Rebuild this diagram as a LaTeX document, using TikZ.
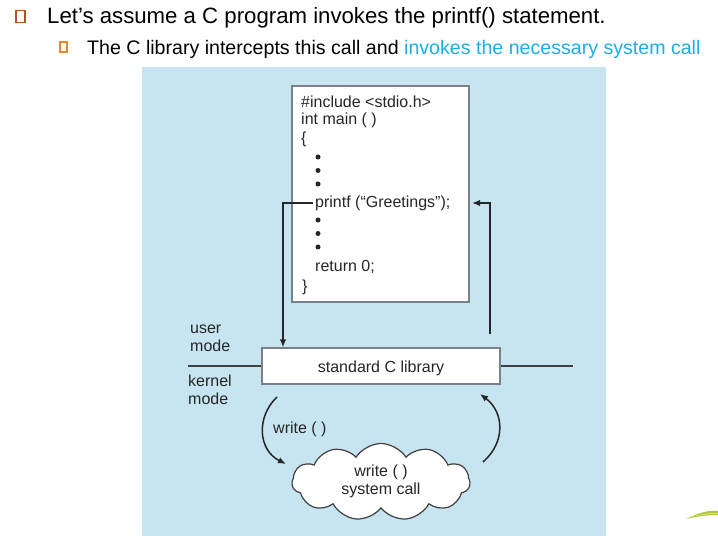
\documentclass[tikz,border=0pt]{standalone}
\usepackage{fontspec}
\setmainfont{Liberation Sans}
\usetikzlibrary{shapes.symbols,arrows.meta}
\definecolor{panelblue}{HTML}{C6E5F0}
\definecolor{linkblue}{HTML}{1CAEE4}
\definecolor{bulletA}{HTML}{B5521C}
\definecolor{bulletB}{HTML}{E8862A}
\definecolor{boxline}{HTML}{7A8088}
\definecolor{swooshA}{HTML}{A8C83A}
\definecolor{swooshB}{HTML}{E8E070}
\tikzset{
  headA/.style={font=\fontsize{22.2}{26}\selectfont, anchor=base west, inner sep=0pt},
  headB/.style={font=\fontsize{19.6}{23}\selectfont, anchor=base west, inner sep=0pt},
  code/.style={font=\fontsize{16}{19}\selectfont, anchor=base west, inner sep=0pt, text=black!85},
  lbl/.style={font=\fontsize{16}{18}\selectfont, inner sep=0pt, text=black!85},
  whitebox/.style={draw=boxline, fill=white, line width=1.2pt},
  conn/.style={line width=1.5pt, draw=black!85},
  tip/.style={-{Latex[length=8pt,width=6.5pt]}},
  codedot/.style={circle, fill=black!85, inner sep=0pt, minimum size=5pt},
}
\begin{document}
\begin{tikzpicture}[x=1pt,y=-1pt]
\useasboundingbox (0,0) rectangle (718,540);
% header bullets and text
\node[draw=bulletA, line width=1.4pt, minimum width=9pt, minimum height=12.5pt, inner sep=0pt] (bA) at (20.5,16.5) {};
\node[draw=bulletB, line width=1.2pt, minimum width=7pt, minimum height=10pt, inner sep=0pt] (bB) at (63.5,47) {};
\node[headA] (h1) at (47,24) {Let’s assume a C program invokes the printf() statement.};
\node[headB] (h2) at (87,55) {The C library intercepts this call and \textcolor{linkblue}{invokes the necessary system call}};
% panel
\fill[panelblue] (142,67) rectangle (606,536);
% code box
\node[whitebox, minimum width=177pt, minimum height=216pt, inner sep=0pt] (codebox) at (380.5,194) {};
\node[code] (l1) at (301,108) {\#include <stdio.h>};
\node[code] (l2) at (301,125) {int main ( )};
\node[code] (l3) at (301,144) {\{};
\node[codedot] (d1) at (318,157) {};
\node[codedot] (d2) at (318,170.5) {};
\node[codedot] (d3) at (318,184) {};
\node[code] (pf) at (315,208) {printf (“Greetings”);};
\node[codedot] (d4) at (318,220) {};
\node[codedot] (d5) at (318,233.5) {};
\node[codedot] (d6) at (318,247) {};
\node[code] (ret) at (315,272) {return 0;};
\node[code] (l9) at (302,291) {\}};
% mode line and library
\coordinate (mlL) at (188,366);
\coordinate (mlR) at (573,366);
\draw[line width=1.5pt, draw=black!75] (mlL) -- (mlR);
\node[whitebox, minimum width=238pt, minimum height=36pt, inner sep=0pt] (lib) at (381,366) {};
\node[lbl] (libtxt) at (381,368) {standard C library};
\node[lbl, align=left, anchor=north west] (um) at (190,325) {user\\mode};
\node[lbl, align=left, anchor=north west] (km) at (188,375) {kernel\\mode};
% connectors user mode
\coordinate (pfL) at (283,203);
\coordinate (pfR) at (490,203);
\coordinate (pfRtip) at (472,203);
\coordinate (upstart) at (490,334);
\draw[conn, tip] ([xshift=-2pt]pf.west |- pfL) -- (pfL) -- (lib.north west -| pfL);
\draw[conn, tip] (upstart) -- (pfR) -- (pfRtip);
% cloud
\node[cloud, draw=black!75, fill=white, line width=1.2pt, cloud puffs=11, cloud puff arc=115, aspect=2.4, minimum width=178pt, minimum height=77pt, inner sep=0pt] (sys) at (381,482) {};
\node[lbl, align=center] (systxt) at (381,481) {write ( )\\system call};
\node[lbl, anchor=base west] (wr) at (273,433) {write ( )};
% curved arrows
\coordinate (a1s) at (277,397);
\coordinate (a1e) at (286,464);
\coordinate (a2s) at (483,462);
\coordinate (a2e) at (480,394);
\draw[conn, tip] (a1s) .. controls (256,417) and (258,450) .. (a1e);
\draw[conn, tip] (a2s) .. controls (506,442) and (504,412) .. (a2e);
% swoosh
\fill[swooshA] (686,519) .. controls (700,512) and (710,510) .. (718,511) -- (718,515) .. controls (708,515) and (698,516) .. (686,519) -- cycle;
\fill[swooshB] (690,517) .. controls (700,514) and (708,513) .. (718,513) -- (718,514) .. controls (708,514) and (700,515) .. (690,517) -- cycle;
\end{tikzpicture}
\end{document}
